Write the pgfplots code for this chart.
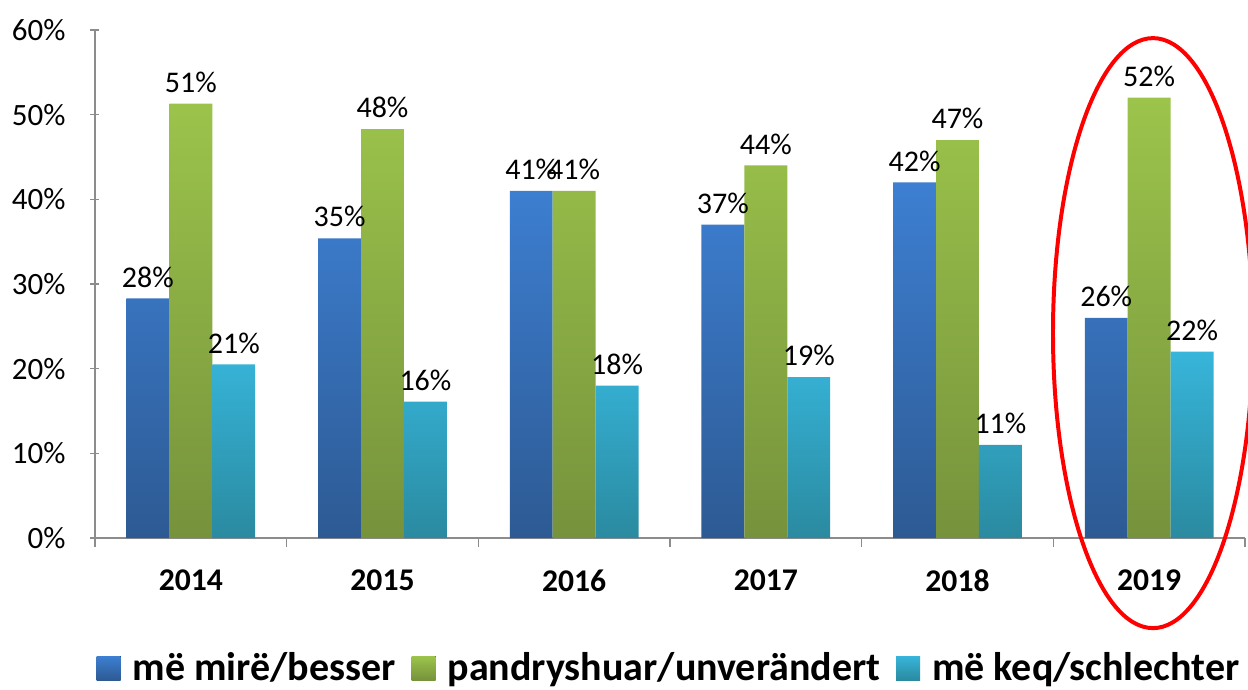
\documentclass[border=0pt]{standalone}
\usepackage{pgfplots}
\pgfplotsset{compat=1.18}
\usepackage{fontspec}
\setmainfont{Carlito}

\definecolor{bluetop}{HTML}{3D7FD2}
\definecolor{bluebot}{HTML}{2D5A93}
\definecolor{greentop}{HTML}{9CC44B}
\definecolor{greenbot}{HTML}{76923C}
\definecolor{cyantop}{HTML}{37B5DA}
\definecolor{cyanbot}{HTML}{2A8AA0}
\definecolor{axgray}{HTML}{8C8C8C}

\pgfplotstableread{
x better same worse
0 28.3 51.3 20.5
1 35.4 48.3 16.1
2 41 41 18
3 37 44 19
4 42 47 11
5 26 52 22
}\datatable

\begin{document}
\begin{tikzpicture}
\useasboundingbox (-47.5bp,-76bp) rectangle (576.5bp,269bp);
\begin{axis}[
  scale only axis,
  width=575bp, height=254bp,
  xmin=-0.5, xmax=5.5,
  ymin=0, ymax=60,
  ytick={0,10,...,60},
  yticklabel={\pgfmathprintnumber{\tick}\%},
  xtick={0,...,5},
  xticklabels={2014,2015,2016,2017,2018,2019},
  minor xtick={-0.5,0.5,...,5.5},
  major x tick style={draw=none},
  tick align=outside,
  major tick length=4.5bp,
  minor tick length=4.5bp,
  tick style={draw=axgray, line width=0.6pt},
  axis lines=left,
  axis line style={-, draw=axgray, line width=0.8pt},
  ticklabel style={font=\fontsize{15.5bp}{18bp}\selectfont},
  xticklabel style={font=\fontsize{15.8bp}{18bp}\selectfont\bfseries, yshift=-8bp},
  yticklabel style={xshift=-9bp},
  /pgf/number format/assume math mode=true,
  bar width=0.224,
  ybar,
  nodes near coords={\pgfmathprintnumber[precision=0]{\pgfplotspointmeta}\%},
  every node near coord/.append style={font=\fontsize{15bp}{18bp}\selectfont, black, yshift=2bp},
  clip=false,
  legend columns=-1,
  legend style={at={(0.5,-0.256)}, anchor=center, draw=none,
    font=\fontsize{20bp}{24bp}\selectfont\bfseries,
    /tikz/every odd column/.append style={column sep=4bp},
    /tikz/every even column/.append style={column sep=6bp}},
  legend image code/.code={\fill[#1] (0bp,-6bp) rectangle (12bp,6bp);},
]
\addplot[draw=none, top color=bluetop, bottom color=bluebot, bar shift=-0.224] table[x=x, y=better] {\datatable};
\addplot[draw=none, top color=greentop, bottom color=greenbot, bar shift=0] table[x=x, y=same] {\datatable};
\addplot[draw=none, top color=cyantop, bottom color=cyanbot, bar shift=0.224] table[x=x, y=worse] {\datatable};
\legend{më mirë/besser, pandryshuar/unverändert, më keq/schlechter}
\draw[red, line width=2pt] (axis cs:5.02,24.2) ellipse [x radius=50bp, y radius=147.5bp];
\end{axis}
\end{tikzpicture}
\end{document}
